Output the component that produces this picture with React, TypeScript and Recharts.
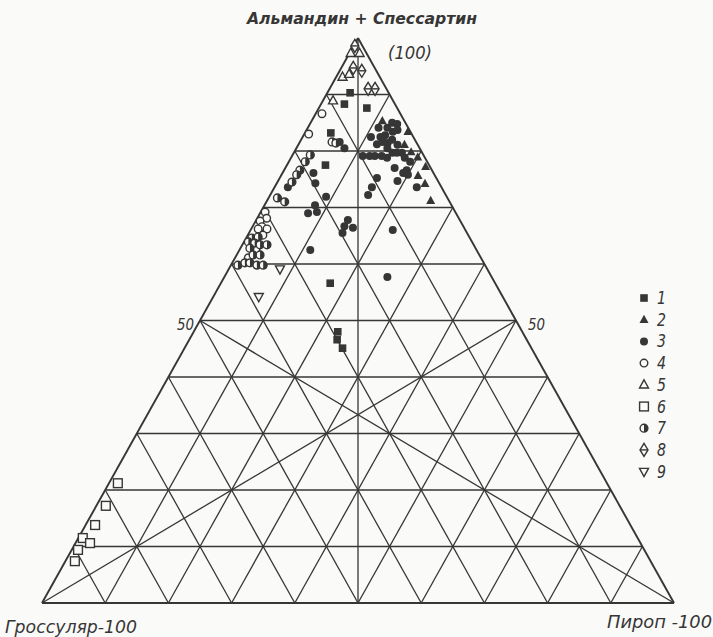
import React from "react";
import { ScatterChart, Scatter, XAxis, YAxis, ReferenceLine, Customized } from "recharts";

// Garnet compositions, mol %: [almandine + spessartine, pyrope]; grossular = 100 - both.
const SERIES_1 = [[90.3, 3.6], [88.3, 3.7], [87.6, 7.6], [83.2, 4.1], [77.5, 6.1], [56.6, 17.3], [48.0, 22.8], [46.6, 23.4], [45.1, 25.0]];
const SERIES_2 = [[85.3, 11.2], [83.4, 16.2], [81.1, 16.8], [79.8, 18.5], [78.9, 20.0], [77.2, 22.1], [75.6, 21.7], [74.2, 23.5], [71.2, 25.9]];
const SERIES_3 = [
  [85.0, 12.9], [84.8, 13.8], [84.1, 12.6], [84.1, 11.2], [82.5, 10.8], [82.5, 12.3], [82.8, 12.9], [83.4, 13.8], [83.7, 14.4],
  [81.2, 12.4], [81.6, 13.1], [81.4, 14.0], [82.0, 14.4], [81.1, 15.7], [80.5, 14.4], [79.1, 11.2], [79.1, 12.3], [79.1, 13.1],
  [79.1, 14.2], [78.8, 15.2], [79.7, 15.6], [79.7, 16.3], [79.7, 17.1], [78.8, 18.0], [78.1, 19.2], [77.0, 17.3], [76.6, 19.4],
  [76.1, 19.1], [74.7, 18.9], [75.8, 20.0], [75.2, 15.4], [73.6, 15.4], [73.6, 22.5], [72.2, 15.5], [66.0, 22.5], [57.7, 25.8],
  [74.3, 6.1], [71.9, 9.0], [70.4, 8.0], [69.0, 7.6], [69.2, 8.9], [80.5, 7.6], [76.1, 4.9], [67.8, 14.5], [66.7, 14.5],
  [65.5, 14.8], [66.4, 16.0], [62.5, 11.2], [73.6, 2.1], [81.6, 6.3],
];
const SERIES_4 = [[69.2, 0.7], [68.1, 1.5], [67.6, 0.7], [66.6, 1.5], [66.2, 1.1], [66.2, 2.5], [65.1, 2.4], [62.5, 2.6], [61.1, 2.1], [86.6, 1.0], [83.0, 0.7]];
const SERIES_5 = [[97.3, 0.2], [97.3, 1.6], [93.1, 1.0], [93.6, 1.8], [88.9, 1.6]];
const SERIES_6 = [[21.2, 1.4], [17.2, 1.5], [13.8, 1.5], [11.5, 0.7], [10.6, 2.3], [9.4, 1.0], [7.4, 1.5]];
const SERIES_7 = [
  [64.6, 0.9], [64.8, 1.8], [63.9, 0.7], [63.7, 1.8], [63.4, 2.8], [63.4, 3.9], [62.8, 1.5], [61.6, 2.6], [61.6, 3.7],
  [59.8, 1.1], [60.2, 2.0], [60.2, 2.8], [59.8, 4.1], [59.8, 5.1], [71.7, 1.4], [71.0, 2.9], [79.3, 2.8], [78.1, 2.6],
  [76.6, 2.5], [75.8, 2.4], [74.5, 2.3], [81.6, 5.1], [81.4, 5.8],
];
const SERIES_8 = [[98.6, 0.2], [94.7, 1.9], [94.2, 3.5], [91.0, 6.1], [91.0, 7.2]];
const SERIES_9 = [[59.1, 8.1], [54.2, 7.2]];

const LEGEND_LABELS = ["1", "2", "3", "4", "5", "6", "7", "8", "9"];
const GRID_LEVELS = [10, 20, 30, 40, 50, 60, 70, 80, 90];
const APEX_LABEL = "Альмандин + Спессартин";
const APEX_VALUE = "(100)";
const LEFT_LABEL = "Гроссуляр-100";
const RIGHT_LABEL = "Пироп -100";
const MID_LABEL = "50";

const INK = "#363636";
const PAPER = "#fafaf8";
const FONT = "'DejaVu Sans Condensed', 'DejaVu Sans', sans-serif";

// ternary -> cartesian (equilateral layout, x across the base, y = apex component)
const toXY = (rows: number[][]) => rows.map(([a, p]) => ({ x: p + a / 2, y: a, g: 100 - a - p }));

type Seg = [{ x: number; y: number }, { x: number; y: number }];
const gridSegments: Seg[] = [];
GRID_LEVELS.forEach((k) => {
  gridSegments.push([{ x: k / 2, y: k }, { x: 100 - k / 2, y: k }]); // constant apex component
  gridSegments.push([{ x: k, y: 0 }, { x: 50 + k / 2, y: 100 - k }]); // constant pyrope
  gridSegments.push([{ x: 100 - k, y: 0 }, { x: (100 - k) / 2, y: 100 - k }]); // constant grossular
});
const medianSegments: Seg[] = [
  [{ x: 50, y: 100 }, { x: 50, y: 0 }],
  [{ x: 0, y: 0 }, { x: 75, y: 50 }],
  [{ x: 100, y: 0 }, { x: 25, y: 50 }],
];
const outline: Seg[] = [
  [{ x: 0, y: 0 }, { x: 100, y: 0 }],
  [{ x: 0, y: 0 }, { x: 50, y: 100 }],
  [{ x: 100, y: 0 }, { x: 50, y: 100 }],
];

function Marker({ kind, cx, cy }: { kind: number; cx: number; cy: number }) {
  const sw = 1.4;
  switch (kind) {
    case 1:
      return <rect x={cx - 3.8} y={cy - 3.8} width={7.6} height={7.6} fill={INK} />;
    case 2:
      return <polygon points={`${cx},${cy - 5} ${cx + 4.5},${cy + 3.2} ${cx - 4.5},${cy + 3.2}`} fill={INK} />;
    case 3:
      return <circle cx={cx} cy={cy} r={4} fill={INK} />;
    case 4:
      return <circle cx={cx} cy={cy} r={3.8} fill={PAPER} stroke={INK} strokeWidth={sw} />;
    case 5:
      return <polygon points={`${cx},${cy - 5} ${cx + 4.5},${cy + 3.2} ${cx - 4.5},${cy + 3.2}`} fill={PAPER} stroke={INK} strokeWidth={sw} />;
    case 6:
      return <rect x={cx - 4.4} y={cy - 4.4} width={8.8} height={8.8} fill={PAPER} stroke={INK} strokeWidth={sw} />;
    case 7:
      return (
        <g>
          <circle cx={cx} cy={cy} r={3.9} fill={PAPER} stroke={INK} strokeWidth={sw} />
          <path d={`M ${cx} ${cy - 3.9} A 3.9 3.9 0 0 1 ${cx} ${cy + 3.9} Z`} fill={INK} />
        </g>
      );
    case 8:
      return (
        <g>
          <polygon points={`${cx},${cy - 6.5} ${cx + 4},${cy} ${cx},${cy + 6.5} ${cx - 4},${cy}`} fill={PAPER} stroke={INK} strokeWidth={sw} />
          <line x1={cx - 4} y1={cy} x2={cx + 4} y2={cy} stroke={INK} strokeWidth={sw} />
        </g>
      );
    default:
      return <polygon points={`${cx},${cy + 5} ${cx + 4.5},${cy - 3.2} ${cx - 4.5},${cy - 3.2}`} fill={PAPER} stroke={INK} strokeWidth={sw} />;
  }
}

const SERIES = [SERIES_1, SERIES_2, SERIES_3, SERIES_4, SERIES_5, SERIES_6, SERIES_7, SERIES_8, SERIES_9];

const textStyle = { fontFamily: FONT, fontStyle: "italic" as const, fill: INK };

function Annotations() {
  return (
    <g>
      <text x={247} y={24} fontSize={15} fontWeight={600} textLength={230} lengthAdjust="spacingAndGlyphs" style={textStyle}>{APEX_LABEL}</text>
      <text x={388} y={59} fontSize={17} textLength={44} lengthAdjust="spacingAndGlyphs" style={textStyle}>{APEX_VALUE}</text>
      <text x={5} y={633} fontSize={17} textLength={132} lengthAdjust="spacingAndGlyphs" style={textStyle}>{LEFT_LABEL}</text>
      <text x={607} y={628} fontSize={17} textLength={105} lengthAdjust="spacingAndGlyphs" style={textStyle}>{RIGHT_LABEL}</text>
      <text x={177} y={330} fontSize={16} textLength={17} lengthAdjust="spacingAndGlyphs" style={textStyle}>{MID_LABEL}</text>
      <text x={528} y={330} fontSize={16} textLength={17} lengthAdjust="spacingAndGlyphs" style={textStyle}>{MID_LABEL}</text>
      {LEGEND_LABELS.map((lab, i) => {
        const cy = 298 + i * 21.7;
        return (
          <g key={lab}>
            <Marker kind={i + 1} cx={644} cy={cy} />
            <text x={657} y={cy + 6} fontSize={18} textLength={9} lengthAdjust="spacingAndGlyphs" style={textStyle}>{lab}</text>
          </g>
        );
      })}
    </g>
  );
}

export default function App() {
  return (
    <div style={{ position: "absolute", left: 0, top: 0, width: 713, height: 637, background: PAPER }}>
      <ScatterChart width={713} height={637} margin={{ top: 38, right: 39, bottom: 34, left: 42 }}>
        <XAxis type="number" dataKey="x" domain={[0, 100]} hide />
        <YAxis type="number" dataKey="y" domain={[0, 100]} hide />
        {gridSegments.map((s, i) => (
          <ReferenceLine key={`g${i}`} segment={s} stroke={INK} strokeWidth={1.3} ifOverflow="visible" />
        ))}
        {medianSegments.map((s, i) => (
          <ReferenceLine key={`m${i}`} segment={s} stroke={INK} strokeWidth={1.3} ifOverflow="visible" />
        ))}
        {outline.map((s, i) => (
          <ReferenceLine key={`o${i}`} segment={s} stroke={INK} strokeWidth={1.9} ifOverflow="visible" />
        ))}
        {SERIES.map((rows, i) => (
          <Scatter
            key={`s${i}`}
            name={LEGEND_LABELS[i]}
            data={toXY(rows)}
            isAnimationActive={false}
            shape={(props: any) => <Marker kind={i + 1} cx={props.cx} cy={props.cy} />}
          />
        ))}
        <Customized component={Annotations} />
      </ScatterChart>
    </div>
  );
}
